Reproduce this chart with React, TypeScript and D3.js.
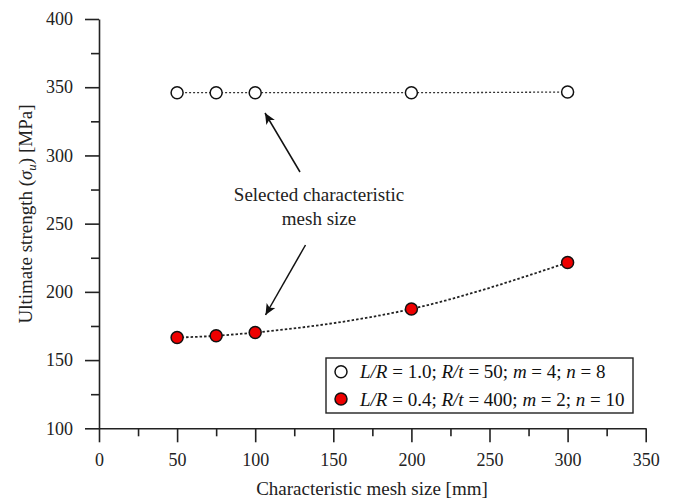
import * as d3 from 'd3';
import React, { useEffect, useRef } from 'react';

const WIDTH = 676;
const HEIGHT = 504;
const FONT = '"Liberation Serif", "Times New Roman", serif';

// mesh sizes [mm]
const meshSizes = [50, 75, 100, 200, 300];
// ultimate strength [MPa]
const seriesOpen = [346, 346, 346, 346, 346.5];
const seriesRed = [166.5, 167.8, 170.2, 187.5, 221.5];

const xTicks = [0, 50, 100, 150, 200, 250, 300, 350];
const yTicks = [100, 150, 200, 250, 300, 350, 400];

const margin = { top: 19, right: 30, bottom: 76, left: 99 };

export default function App() {
  const ref = useRef<SVGSVGElement>(null);

  useEffect(() => {
    const svg = d3.select(ref.current);
    svg.selectAll('*').remove();

    const x = d3.scaleLinear().domain([0, 350]).range([margin.left, 645.7]);
    const y = d3.scaleLinear().domain([100, 400]).range([428.3, margin.top]);

    const defs = svg.append('defs');
    defs
      .append('marker')
      .attr('id', 'arrowHead')
      .attr('viewBox', '0 0 10 10')
      .attr('refX', 10)
      .attr('refY', 5)
      .attr('markerWidth', 11)
      .attr('markerHeight', 11)
      .attr('markerUnits', 'userSpaceOnUse')
      .attr('orient', 'auto')
      .append('path')
      .attr('d', 'M0,0.5 L10,5 L0,9.5 L2.5,5 Z')
      .attr('fill', '#111');

    // minor ticks first, then the major ones
    const minorX = d3.range(25, 350, 50);
    const minorY = d3.range(125, 400, 50);

    const xAxis = svg.append('g').attr('transform', `translate(0,${y(100)})`);
    xAxis
      .call(d3.axisBottom(x).tickValues(minorX).tickSize(8).tickFormat(() => ''))
      .call(g => g.select('.domain').remove());
    xAxis
      .append('g')
      .call(d3.axisBottom(x).tickValues(xTicks).tickSize(14).tickSizeOuter(0).tickPadding(11))
      .call(g => g.selectAll('text').attr('font-size', 18).attr('font-family', FONT).attr('fill', '#222'));

    const yAxis = svg.append('g').attr('transform', `translate(${x(0)},0)`);
    yAxis
      .call(d3.axisLeft(y).tickValues(minorY).tickSize(8).tickFormat(() => ''))
      .call(g => g.select('.domain').remove());
    yAxis
      .append('g')
      .call(d3.axisLeft(y).tickValues(yTicks).tickSize(14).tickSizeOuter(0).tickPadding(12))
      .call(g => g.selectAll('text').attr('font-size', 18).attr('font-family', FONT).attr('fill', '#222'));

    svg.selectAll('.domain, .tick line').attr('stroke', '#222').attr('stroke-width', 1.6);

    // axis titles
    svg
      .append('text')
      .attr('x', 372)
      .attr('y', 495)
      .attr('text-anchor', 'middle')
      .attr('font-family', FONT)
      .attr('font-size', 19)
      .attr('fill', '#222')
      .text('Characteristic mesh size [mm]');

    const yTitle = svg
      .append('text')
      .attr('transform', 'translate(32,214) rotate(-90)')
      .attr('text-anchor', 'middle')
      .attr('font-family', FONT)
      .attr('font-size', 19)
      .attr('fill', '#222');
    yTitle.append('tspan').text('Ultimate strength (');
    yTitle.append('tspan').attr('font-style', 'italic').text('σ');
    yTitle.append('tspan').attr('font-style', 'italic').attr('font-size', 13).attr('dy', 4).text('u');
    yTitle.append('tspan').attr('dy', -4).text(') [MPa]');

    // trend lines
    const openPts = meshSizes.map((m, i) => [m, seriesOpen[i]] as [number, number]);
    const redPts = meshSizes.map((m, i) => [m, seriesRed[i]] as [number, number]);

    const line = d3
      .line<[number, number]>()
      .x(d => x(d[0]))
      .y(d => y(d[1]))
      .curve(d3.curveMonotoneX);

    svg
      .append('path')
      .attr('d', line(openPts))
      .attr('fill', 'none')
      .attr('stroke', '#333')
      .attr('stroke-width', 1.3)
      .attr('stroke-dasharray', '2,2');

    svg
      .append('path')
      .attr('d', line(redPts))
      .attr('fill', 'none')
      .attr('stroke', '#222')
      .attr('stroke-width', 1.8)
      .attr('stroke-dasharray', '2.5,2');

    svg
      .append('g')
      .selectAll('circle')
      .data(openPts)
      .enter()
      .append('circle')
      .attr('cx', d => x(d[0]))
      .attr('cy', d => y(d[1]))
      .attr('r', 6)
      .attr('fill', '#fff')
      .attr('stroke', '#111')
      .attr('stroke-width', 1.5);

    svg
      .append('g')
      .selectAll('circle')
      .data(redPts)
      .enter()
      .append('circle')
      .attr('cx', d => x(d[0]))
      .attr('cy', d => y(d[1]))
      .attr('r', 6)
      .attr('fill', '#ee0000')
      .attr('stroke', '#111')
      .attr('stroke-width', 1.5);

    // annotation
    const note = svg
      .append('text')
      .attr('text-anchor', 'middle')
      .attr('font-family', FONT)
      .attr('font-size', 19)
      .attr('fill', '#222');
    note.append('tspan').attr('x', 319).attr('y', 201).text('Selected characteristic');
    note.append('tspan').attr('x', 319).attr('y', 225).text('mesh size');

    svg
      .append('line')
      .attr('x1', 300)
      .attr('y1', 172)
      .attr('x2', 265)
      .attr('y2', 113)
      .attr('stroke', '#111')
      .attr('stroke-width', 1.5)
      .attr('marker-end', 'url(#arrowHead)');

    svg
      .append('line')
      .attr('x1', 305.5)
      .attr('y1', 245)
      .attr('x2', 265.5)
      .attr('y2', 315)
      .attr('stroke', '#111')
      .attr('stroke-width', 1.5)
      .attr('marker-end', 'url(#arrowHead)');

    // legend
    const legend = svg.append('g');
    legend
      .append('rect')
      .attr('x', 326)
      .attr('y', 358)
      .attr('width', 307)
      .attr('height', 55)
      .attr('fill', '#fff')
      .attr('stroke', '#222')
      .attr('stroke-width', 1.4);

    const legendRows = [
      { fill: '#fff', parts: [['L/R', true], [' = 1.0; ', false], ['R/t', true], [' = 50; ', false], ['m', true], [' = 4; ', false], ['n', true], [' = 8', false]] },
      { fill: '#ee0000', parts: [['L/R', true], [' = 0.4; ', false], ['R/t', true], [' = 400; ', false], ['m', true], [' = 2; ', false], ['n', true], [' = 10', false]] },
    ];

    legendRows.forEach((row, i) => {
      const cy = 371.7 + i * 27.3;
      legend
        .append('circle')
        .attr('cx', 341)
        .attr('cy', cy)
        .attr('r', 6)
        .attr('fill', row.fill)
        .attr('stroke', '#111')
        .attr('stroke-width', 1.5);
      const t = legend
        .append('text')
        .attr('x', 360)
        .attr('y', cy + 6.5)
        .attr('font-family', FONT)
        .attr('font-size', 19)
        .attr('fill', '#111');
      row.parts.forEach(([s, it]) => {
        t.append('tspan').attr('font-style', it ? 'italic' : 'normal').text(s as string);
      });
    });
  }, []);

  return (
    <svg
      ref={ref}
      width={WIDTH}
      height={HEIGHT}
      style={{ position: 'absolute', left: 0, top: 0, background: '#fff' }}
    />
  );
}
